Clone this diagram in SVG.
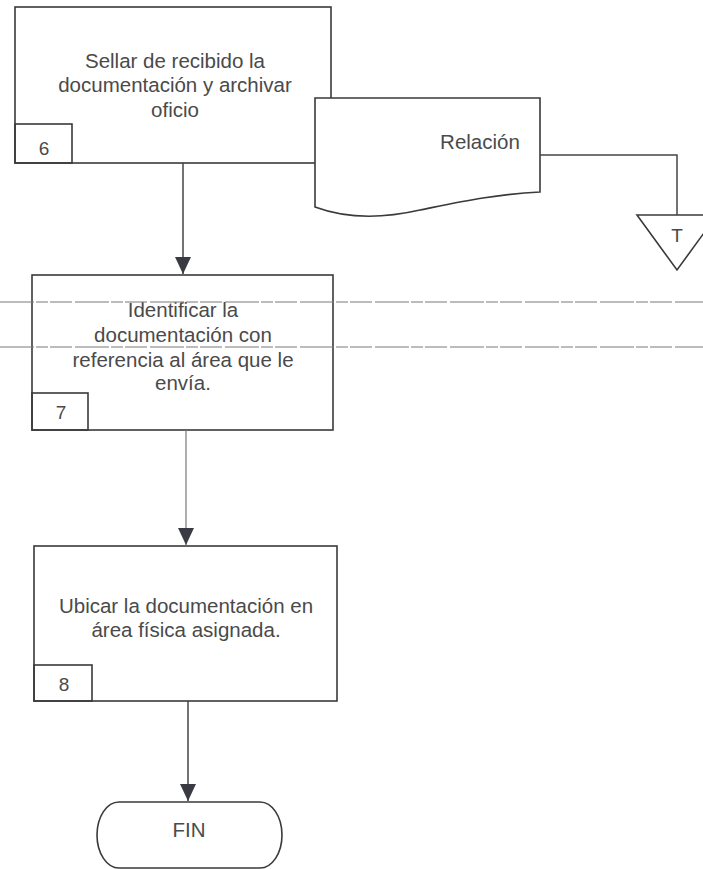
<svg xmlns="http://www.w3.org/2000/svg" width="703" height="869" viewBox="0 0 703 869">
<defs>
<style>
.box{fill:none;stroke:#3a3a3a;stroke-width:1.6}
.doc{fill:#ffffff;stroke:#3a3a3a;stroke-width:1.6}
.t{font-family:"Liberation Sans",Arial,sans-serif;font-size:20.5px;fill:#4a4a4a;text-anchor:middle}
.n{font-family:"Liberation Sans",Arial,sans-serif;font-size:19px;fill:#4a4a4a;text-anchor:middle}
.c{fill:none;stroke:#444;stroke-width:1.5}
.cl{fill:none;stroke:#777;stroke-width:1.2}
.sep{fill:none;stroke:#7a7a7a;stroke-width:1.2;stroke-dasharray:34 2 12 2 22 3}
</style>
<marker id="ah" viewBox="0 0 17 16" refX="17" refY="8" markerWidth="17" markerHeight="16" markerUnits="userSpaceOnUse" orient="auto">
<path d="M0,0 L17,8 L0,16 Z" fill="#3a3a44"/>
</marker>
</defs>
<rect width="703" height="869" fill="#ffffff"/>

<g id="node6">
<rect class="box" x="15" y="7" width="316" height="156"/>
<rect class="box" x="15" y="124" width="57" height="39"/>
<text class="n" x="44" y="155">6</text>
<text class="t" x="175" y="68">Sellar de recibido la</text>
<text class="t" x="175" y="92">documentación y archivar</text>
<text class="t" x="175" y="117">oficio</text>
</g>

<g id="relacion">
<path class="doc" d="M315,98 L540,98 L540,192 C495,194 455,203 420,210 C385,218 350,220 315,207 Z"/>
<text class="t" x="480" y="149">Relación</text>
</g>

<g id="archivo-T">
<path class="box" d="M637,215 L717,215 L677,270 Z"/>
<text class="n" x="677" y="242">T</text>
</g>

<g id="node7">
<rect class="box" x="32" y="275" width="301" height="155"/>
<rect class="box" x="32" y="393" width="56" height="37"/>
<text class="n" x="61" y="419">7</text>
<text class="t" x="183" y="317">Identificar la</text>
<text class="t" x="183" y="342">documentación con</text>
<text class="t" x="183" y="367">referencia al área que le</text>
<text class="t" x="183" y="390">envía.</text>
</g>

<g id="node8">
<rect class="box" x="34" y="546" width="303" height="155"/>
<rect class="box" x="34" y="665" width="58" height="36"/>
<text class="n" x="64" y="691">8</text>
<text class="t" x="186" y="613">Ubicar la documentación en</text>
<text class="t" x="186" y="637">área física asignada.</text>
</g>

<g id="fin">
<rect class="box" x="97" y="802" width="185" height="66" rx="22" ry="33"/>
<text class="t" x="189" y="837">FIN</text>
</g>

<g id="connectors">
<line class="c" x1="183" y1="163" x2="183" y2="274" marker-end="url(#ah)"/>
<polyline class="c" points="540,155 677,155 677,215"/>
<line class="cl" x1="186" y1="430" x2="186" y2="545" marker-end="url(#ah)"/>
<line class="c" x1="188" y1="701" x2="188" y2="801" marker-end="url(#ah)"/>
</g>

<g id="separators">
<line class="sep" x1="0" y1="302" x2="703" y2="302"/>
<line class="sep" x1="0" y1="347" x2="703" y2="347"/>
</g>
</svg>
